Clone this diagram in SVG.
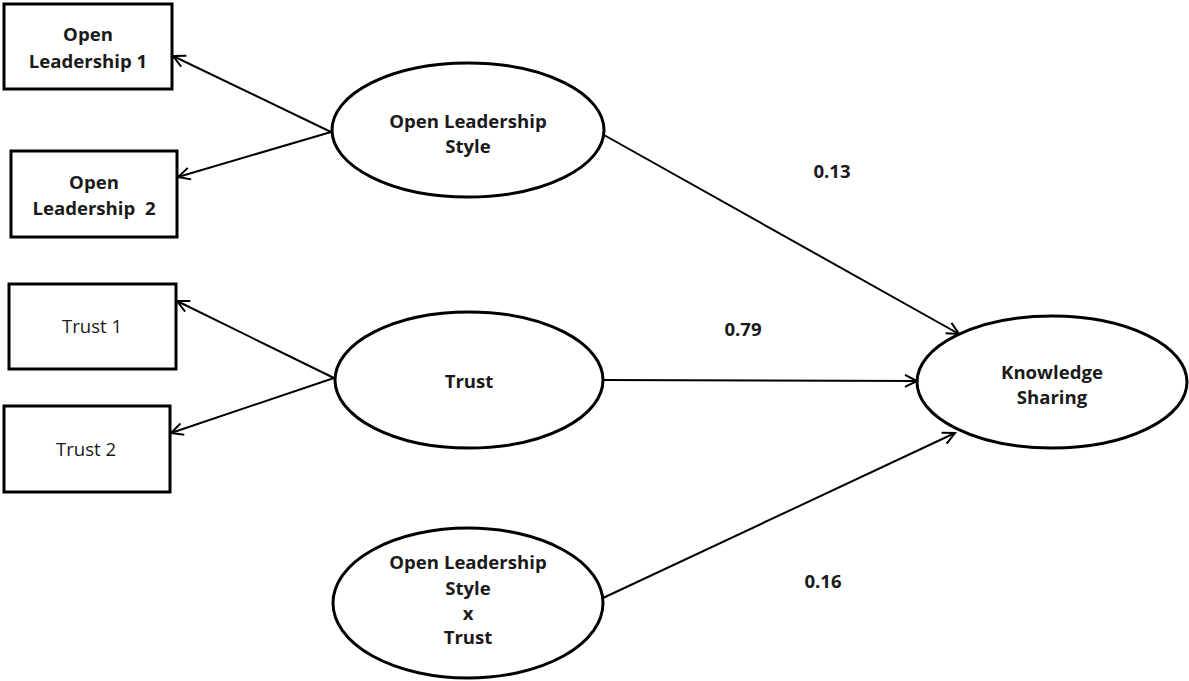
<svg xmlns="http://www.w3.org/2000/svg" width="1189" height="681" viewBox="0 0 1189 681">
<style>
.box{fill:#fff;stroke:#000;stroke-width:3}
.ell{fill:none;stroke:#000;stroke-width:3}
.t{font-family:"Open Sans","DejaVu Sans",sans-serif;font-size:18.6px;fill:#1a1a1a;text-anchor:middle}
.b{font-weight:bold}
.conn line{stroke:#000;stroke-width:2;marker-end:url(#arr)}
</style>
<defs>
<marker id="arr" markerUnits="userSpaceOnUse" markerWidth="16" markerHeight="16" refX="13" refY="7" orient="auto">
<path d="M1,1 L13,7 L1,13" fill="none" stroke="#000" stroke-width="2"/>
</marker>
</defs>
<rect width="1189" height="681" fill="#fff"/>
<g id="ol1"><rect class="box" x="4" y="4" width="168" height="85"/>
<text class="t b" x="88" y="41">Open</text><text class="t b" x="88" y="68">Leadership 1</text></g>
<g id="ol2"><rect class="box" x="11" y="151" width="166" height="86"/>
<text class="t b" x="94" y="189">Open</text><text class="t b" x="94" y="215" xml:space="preserve">Leadership  2</text></g>
<g id="trust1"><rect class="box" x="9" y="284" width="167" height="85"/>
<text class="t" x="92" y="333">Trust 1</text></g>
<g id="trust2"><rect class="box" x="4" y="406" width="166" height="86"/>
<text class="t" x="86" y="456">Trust 2</text></g>
<g id="ols"><ellipse class="ell" cx="468" cy="130" rx="136" ry="67"/>
<text class="t b" x="468" y="128">Open Leadership</text><text class="t b" x="468" y="153">Style</text></g>
<g id="trust"><ellipse class="ell" cx="469" cy="380" rx="134" ry="68"/>
<text class="t b" x="469" y="388">Trust</text></g>
<g id="inter"><ellipse class="ell" cx="468" cy="603" rx="135" ry="75"/>
<text class="t b" x="468" y="569">Open Leadership</text><text class="t b" x="468" y="595">Style</text><text class="t b" x="468" y="620">x</text><text class="t b" x="468" y="644">Trust</text></g>
<g id="ks"><ellipse class="ell" cx="1052" cy="382" rx="135" ry="66"/>
<text class="t b" x="1052" y="379">Knowledge</text><text class="t b" x="1052" y="404">Sharing</text></g>
<g id="connectors" class="conn">
<line x1="331" y1="132" x2="173" y2="56"/>
<line x1="331" y1="132" x2="178" y2="177"/>
<line x1="334" y1="378" x2="177" y2="301"/>
<line x1="334" y1="378" x2="171" y2="433"/>
<line x1="604" y1="135" x2="959" y2="334"/>
<line x1="603" y1="380" x2="917" y2="381"/>
<line x1="603" y1="598" x2="955" y2="433"/>
</g>
<g id="labels">
<text class="t b" x="832" y="178">0.13</text>
<text class="t b" x="743" y="336">0.79</text>
<text class="t b" x="823" y="588">0.16</text>
</g>
</svg>
